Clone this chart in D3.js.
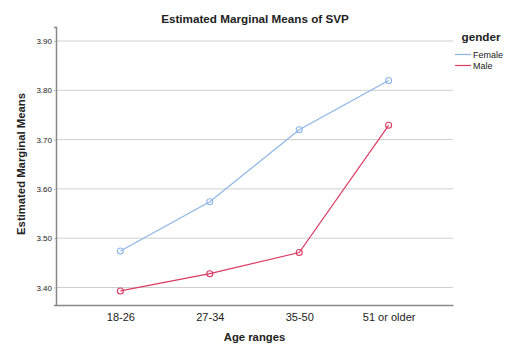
<!DOCTYPE html>
<html lang="en">
<head>
    <meta charset="UTF-8">
    <title>SVP</title>
    <script src="https://d3js.org/d3.v7.min.js"></script>
    <style>
        body { margin: 0; background: #fff; }
        text { font-family: Arial, "Liberation Sans", sans-serif; fill: #222; }
        .bold { font-weight: bold; }
    </style>
</head>
<body>
    <svg width="505" height="346"></svg>
    <script>
        const ages = ["18-26", "27-34", "35-50", "51 or older"];
        const female = [3.474, 3.574, 3.720, 3.820];
        const male = [3.393, 3.428, 3.471, 3.729];
        const yTicks = [3.40, 3.50, 3.60, 3.70, 3.80, 3.90];
        const groups = ["Female", "Male"];
        const colors = ["#8db6e8", "#dc3a62"];

        const svg = d3.select("svg");
        const plotLeft = 56, plotRight = 453, plotTop = 27, plotBottom = 305;

        const x = d3.scalePoint().domain(ages).range([plotLeft, plotRight]).padding(0.72);
        const y = d3.scaleLinear().domain([3.3645, 3.9284]).range([plotBottom, plotTop]);

        // gridlines
        svg.append("g").selectAll("line").data(yTicks).join("line")
            .attr("x1", plotLeft).attr("x2", plotRight)
            .attr("y1", d => y(d)).attr("y2", d => y(d))
            .attr("stroke", "#cfcfcf").attr("stroke-width", 1);

        // axes
        const yAxis = svg.append("g").attr("transform", `translate(${plotLeft},0)`)
            .call(d3.axisLeft(y).tickValues(yTicks).tickFormat(d3.format(".2f")).tickSize(2).tickPadding(2));
        yAxis.select(".domain").attr("stroke", "#888").attr("stroke-width", 1.5);
        yAxis.selectAll(".tick line").attr("stroke", "#bbb");
        yAxis.selectAll("text").style("font-size", "8px").attr("fill", "#444");

        const xAxis = svg.append("g").attr("transform", `translate(0,${plotBottom})`)
            .call(d3.axisBottom(x).tickSize(0).tickPadding(8));
        xAxis.select(".domain").attr("stroke", "#888").attr("stroke-width", 1.5);
        xAxis.selectAll("text").style("font-size", "11px").attr("fill", "#555");

        // lines and markers
        const series = [female, male];
        const line = d3.line().x((d, i) => x(ages[i])).y(d => y(d));
        series.forEach((s, k) => {
            svg.append("path").datum(s).attr("d", line)
                .attr("fill", "none").attr("stroke", colors[k]).attr("stroke-width", 1.2);
            svg.append("g").selectAll("circle").data(s).join("circle")
                .attr("cx", (d, i) => x(ages[i])).attr("cy", d => y(d)).attr("r", 3)
                .attr("fill", "none").attr("stroke", colors[k]).attr("stroke-width", 1.1);
        });

        // titles
        svg.append("text").attr("class", "bold").attr("x", 255).attr("y", 23)
            .attr("text-anchor", "middle").style("font-size", "11.7px")
            .text("Estimated Marginal Means of SVP");
        svg.append("text").attr("class", "bold")
            .attr("transform", "translate(25,164) rotate(-90)")
            .attr("text-anchor", "middle").style("font-size", "11.3px")
            .text("Estimated Marginal Means");
        svg.append("text").attr("class", "bold").attr("x", 254.5).attr("y", 341)
            .attr("text-anchor", "middle").style("font-size", "11.3px")
            .text("Age ranges");

        // legend
        svg.append("text").attr("class", "bold").attr("x", 461.5).attr("y", 41)
            .style("font-size", "11.7px").text("gender");
        groups.forEach((g, k) => {
            const ly = 54.5 + k * 11;
            svg.append("line").attr("x1", 455).attr("x2", 471).attr("y1", ly).attr("y2", ly)
                .attr("stroke", colors[k]).attr("stroke-width", 1.2);
            svg.append("text").attr("x", 473).attr("y", ly + 3.2)
                .style("font-size", "9px").attr("fill", "#444").text(g);
        });
    </script>
</body>
</html>
